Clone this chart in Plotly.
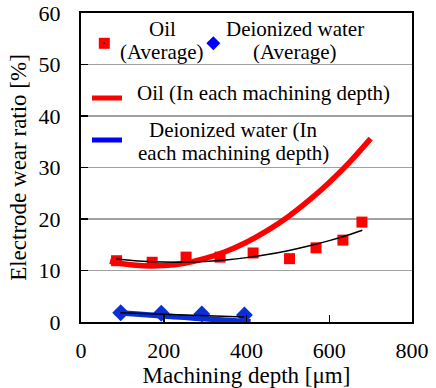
import plotly.graph_objects as go

# ---------------- data ----------------
oil_avg_depth = [86, 172, 254, 336, 416, 504, 568, 633, 679]
oil_avg_ratio = [11.9, 11.6, 12.6, 12.6, 13.4, 12.3, 14.4, 15.9, 19.4]

oil_trend_depth = [85, 150, 200, 250, 300, 350, 400, 450, 500, 550, 600, 650, 680]
oil_trend_ratio = [12.25, 11.8, 11.65, 11.63, 11.77, 12.06, 12.5, 13.1, 13.85, 14.75, 15.8, 17.0, 17.8]

oil_each_depth = [70, 100, 150, 200, 250, 300, 350, 400, 450, 500, 550, 600, 650, 700]
oil_each_ratio = [11.8, 11.3, 10.9, 10.95, 11.4, 12.35, 13.7, 15.5, 17.75, 20.4, 23.55, 27.1, 31.1, 35.6]

water_avg_depth = [96, 194, 292, 395]
water_avg_ratio = [1.8, 1.7, 1.55, 1.36]

water_trend_depth = [95, 200, 300, 395]
water_trend_ratio = [1.8, 1.55, 1.25, 0.95]

water_each_depth = [82, 150, 200, 250, 300, 350, 410]
water_each_ratio = [1.85, 1.45, 1.17, 0.9, 0.62, 0.36, 0.06]

x_ticks = [0, 200, 400, 600, 800]
y_ticks = [0, 10, 20, 30, 40, 50, 60]

legend_oil_avg = ["Oil", "(Average)"]
legend_water_avg = ["Deionized water", "(Average)"]
legend_oil_each = "Oil (In each machining depth)"
legend_water_each = ["Deionized water (In", "each machining depth)"]

# ---------------- styling ----------------
FONT = "'Liberation Serif', 'DejaVu Serif', serif"
RED = "#ff0000"
BLUE = "#0000ff"
BLUE_LINE = "#0a2fd6"
W, H = 436, 388
ML, MR, MT, MB = 81, 24, 13, 66
PW, PH = W - ML - MR, H - MT - MB

def px(x):
    return (x - ML) / PW

def py(y):
    return (H - MB - y) / PH

fig = go.Figure()

# Oil
fig.add_trace(go.Scatter(x=oil_avg_depth, y=oil_avg_ratio, mode="markers",
                         marker=dict(symbol="square", size=11, color=RED),
                         showlegend=False))
fig.add_trace(go.Scatter(x=oil_each_depth, y=oil_each_ratio, mode="lines",
                         line=dict(color=RED, width=5.5, shape="spline"),
                         showlegend=False))
fig.add_trace(go.Scatter(x=oil_trend_depth, y=oil_trend_ratio, mode="lines",
                         line=dict(color="black", width=1.5, shape="spline"),
                         showlegend=False))
# Deionized water
fig.add_trace(go.Scatter(x=water_avg_depth, y=water_avg_ratio, mode="markers",
                         marker=dict(symbol="diamond", size=13, color=BLUE_LINE),
                         showlegend=False))
fig.add_trace(go.Scatter(x=water_each_depth, y=water_each_ratio, mode="lines",
                         line=dict(color=BLUE_LINE, width=5.5, shape="spline"),
                         showlegend=False))
fig.add_trace(go.Scatter(x=water_trend_depth, y=water_trend_ratio, mode="lines",
                         line=dict(color="black", width=1.5),
                         showlegend=False))

# ---------------- hand-built legend (paper coordinates) ----------------
shapes = []
annotations = []

def text(t, cx, cy, size=21):
    annotations.append(dict(text=t, x=px(cx), y=py(cy), xref="paper", yref="paper",
                            xanchor="center", yanchor="middle", showarrow=False,
                            font=dict(family=FONT, size=size, color="black")))

# red square
s = 5.5
shapes.append(dict(type="rect", xref="paper", yref="paper",
                   x0=px(104.3 - s), x1=px(104.3 + s), y0=py(43.3 + s), y1=py(43.3 - s),
                   fillcolor=RED, line=dict(width=0)))
shapes.append(dict(type="circle", xref="paper", yref="paper",
                   x0=px(103.5), x1=px(105.1), y0=py(44.1), y1=py(42.5),
                   fillcolor="black", line=dict(width=0)))
text(legend_oil_avg[0], 162, 29)
text(legend_oil_avg[1], 162, 52)

# blue diamond
d = 7
cx, cy = 213.3, 43.3
shapes.append(dict(type="path", xref="paper", yref="paper",
                   path=f"M {px(cx - d)},{py(cy)} L {px(cx)},{py(cy - d)} L {px(cx + d)},{py(cy)} L {px(cx)},{py(cy + d)} Z",
                   fillcolor=BLUE, line=dict(width=0)))
shapes.append(dict(type="circle", xref="paper", yref="paper",
                   x0=px(cx - 0.8), x1=px(cx + 0.8), y0=py(cy + 0.8), y1=py(cy - 0.8),
                   fillcolor="black", line=dict(width=0)))
text(legend_water_avg[0], 295, 29)
text(legend_water_avg[1], 295, 52)

# red line
shapes.append(dict(type="line", xref="paper", yref="paper",
                   x0=px(92), x1=px(122), y0=py(98), y1=py(98),
                   line=dict(color=RED, width=5)))
text(legend_oil_each, 263, 93)

# blue line
shapes.append(dict(type="line", xref="paper", yref="paper",
                   x0=px(92), x1=px(122), y0=py(140), y1=py(140),
                   line=dict(color=BLUE, width=5)))
text(legend_water_each[0], 233, 130)
text(legend_water_each[1], 233, 153)

fig.update_layout(
    width=W, height=H,
    margin=dict(l=ML, r=MR, t=MT, b=MB, pad=0, autoexpand=False),
    paper_bgcolor="white", plot_bgcolor="white",
    font=dict(family=FONT, size=22, color="black"),
    showlegend=False,
    shapes=shapes,
    annotations=annotations,
)
fig.update_xaxes(
    range=[0, 800], tickvals=x_ticks, ticktext=[str(v) for v in x_ticks],
    showgrid=False, zeroline=False, automargin=False,
    showline=True, linecolor="black", linewidth=2, mirror=True,
    ticks="inside", ticklen=7, tickwidth=1.5, tickcolor="black",
    ticklabelstandoff=8,
    tickfont=dict(family=FONT, size=22),
    title=dict(text="Machining depth [μm]", font=dict(family=FONT, size=23), standoff=2),
)
fig.update_yaxes(
    range=[0, 60], tickvals=y_ticks, ticktext=[str(v) for v in y_ticks],
    showgrid=True, gridcolor="#a0a0a0", gridwidth=1.5, zeroline=False, automargin=False,
    showline=True, linecolor="black", linewidth=2, mirror=True,
    ticks="inside", ticklen=7, tickwidth=1.5, tickcolor="black",
    ticklabelstandoff=14,
    tickfont=dict(family=FONT, size=22),
    title=dict(text="Electrode wear ratio [%]", font=dict(family=FONT, size=23), standoff=6),
)

fig.write_html(
    "out.html",
    config={"displayModeBar": False, "staticPlot": True},
    post_script="document.body.style.margin='0';document.body.style.padding='0';document.body.style.overflow='hidden';",
)
